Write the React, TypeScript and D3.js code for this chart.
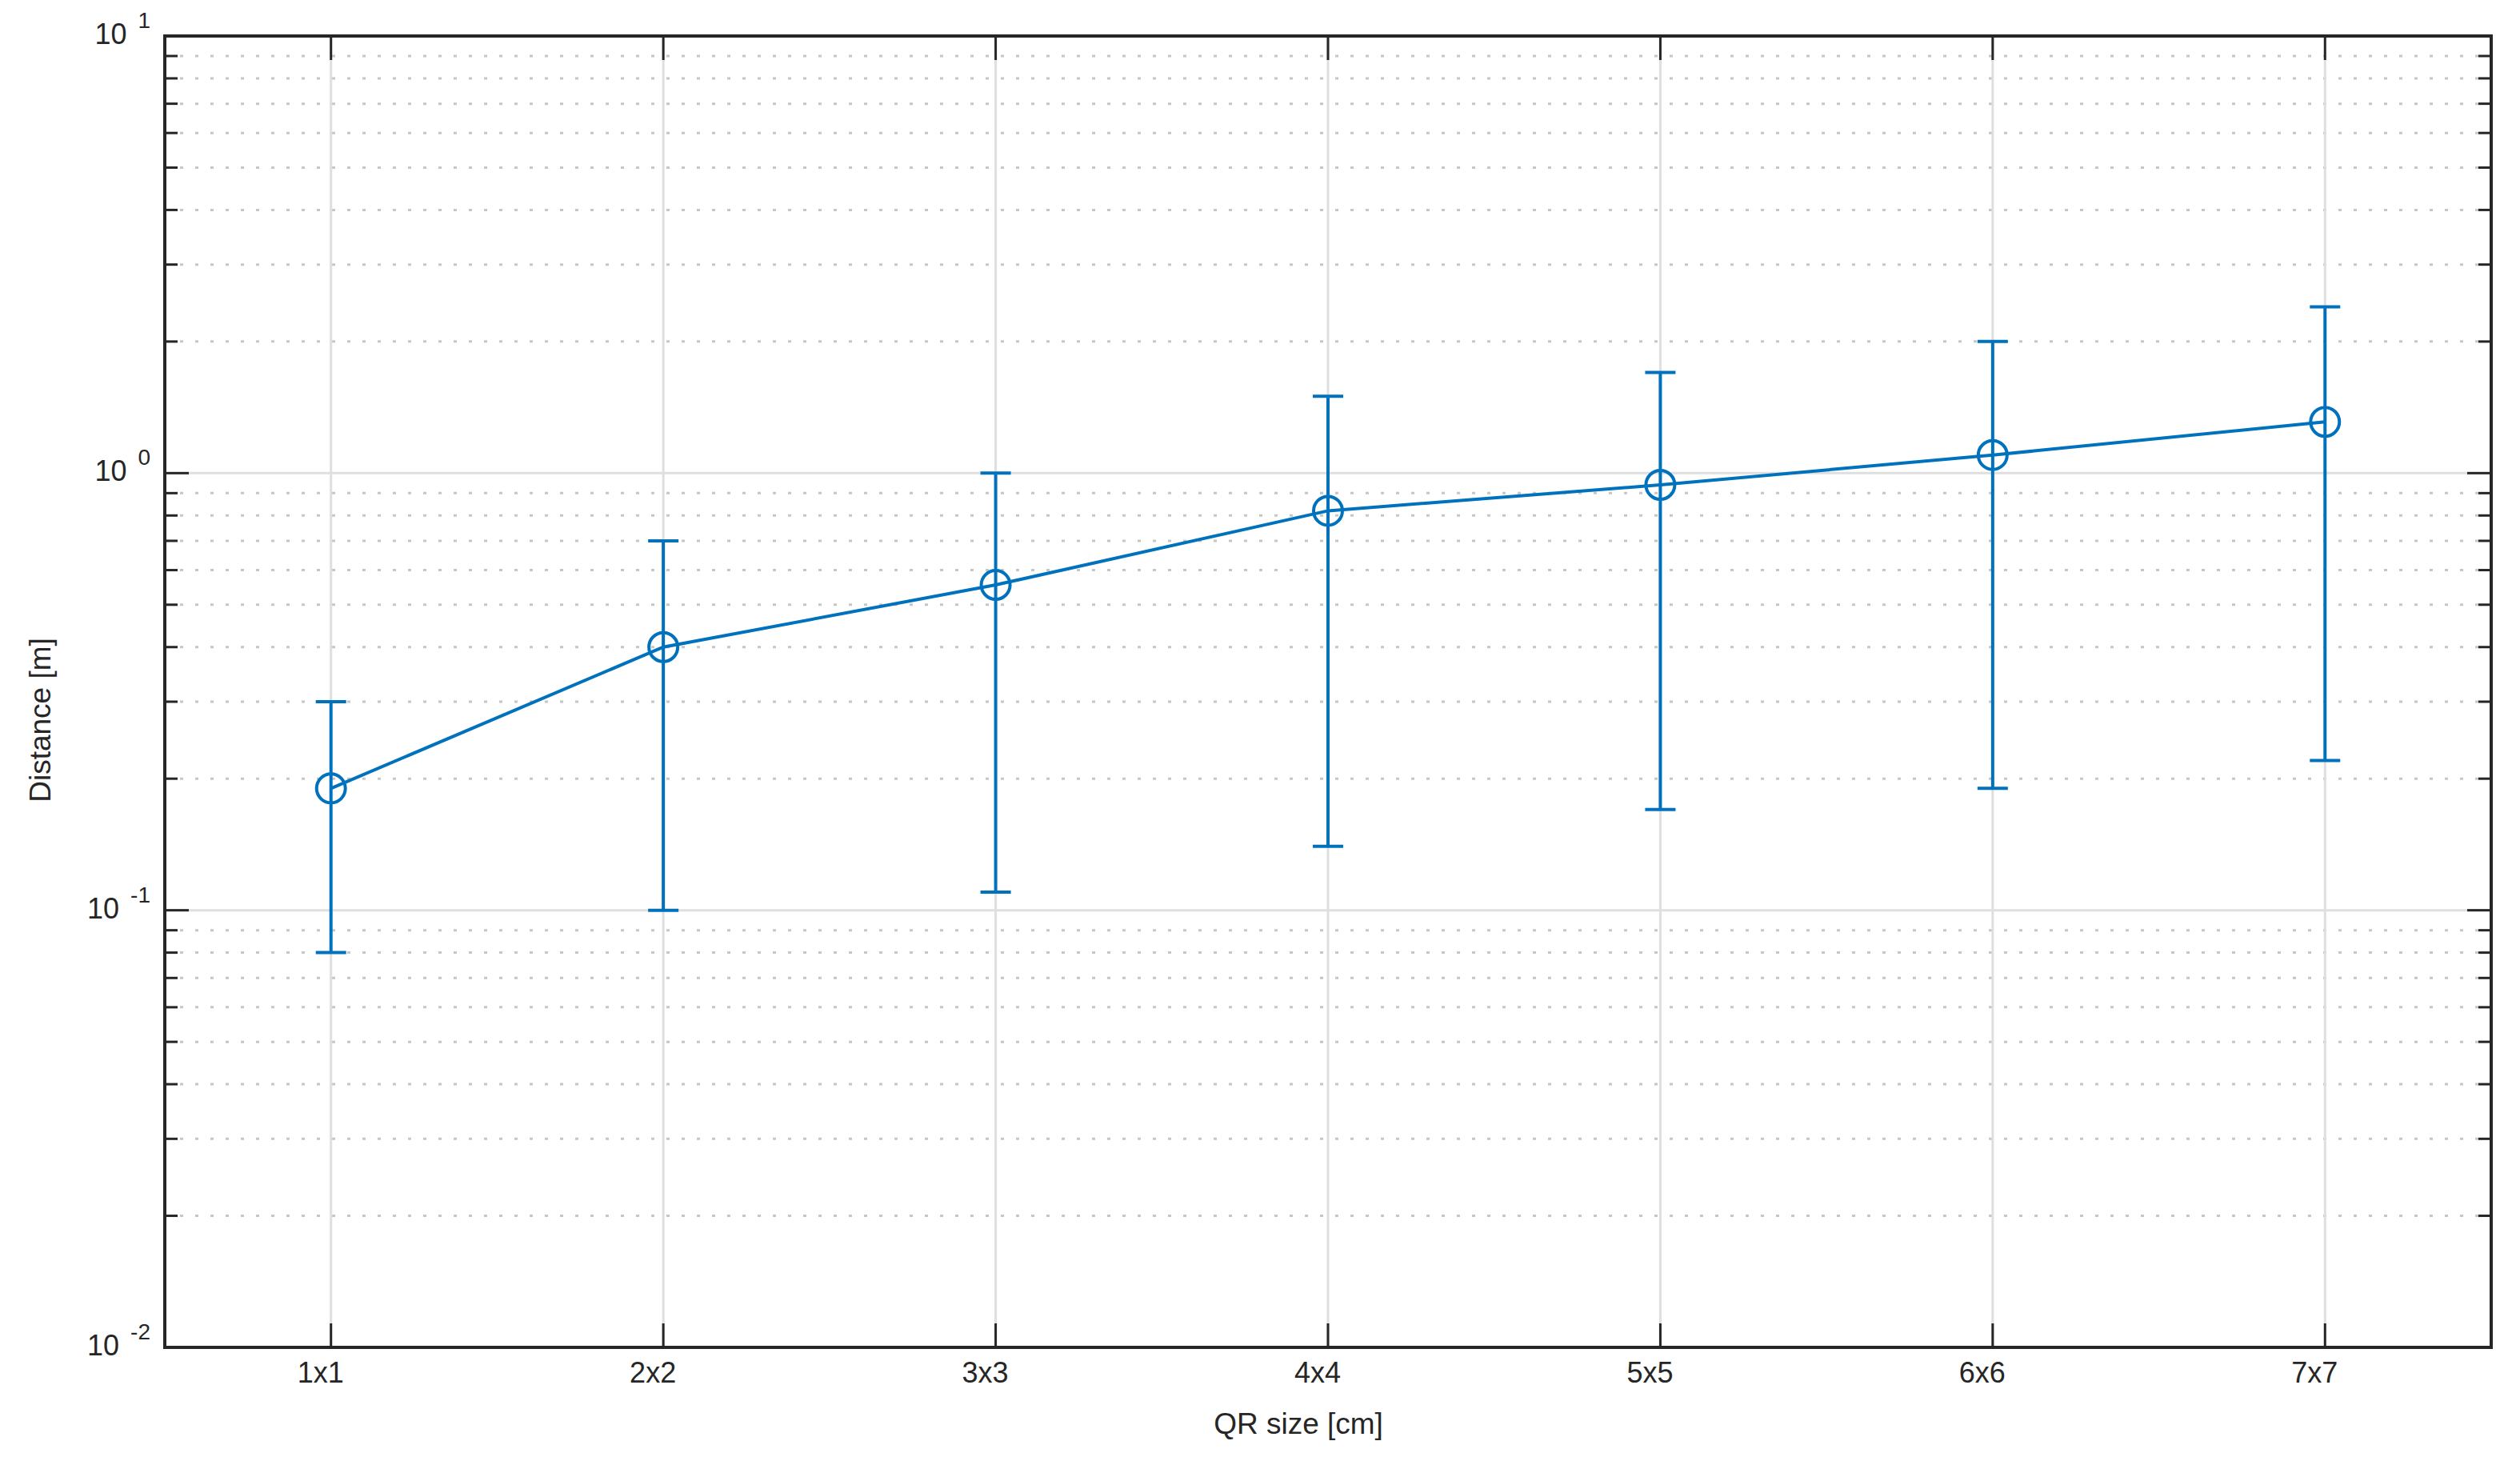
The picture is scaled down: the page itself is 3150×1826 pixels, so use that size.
import React from "react";
import * as d3 from "d3";

const categories = ["1x1", "2x2", "3x3", "4x4", "5x5", "6x6", "7x7"];
const meanValues = [0.19, 0.4, 0.555, 0.82, 0.94, 1.1, 1.31];
const upperValues = [0.3, 0.7, 1.0, 1.5, 1.7, 2.0, 2.4];
const lowerValues = [0.08, 0.1, 0.11, 0.14, 0.17, 0.19, 0.22];
const decadeExponents = [-2, -1, 0, 1];
const minorMultipliers = [2, 3, 4, 5, 6, 7, 8, 9];
const xAxisLabel = "QR size [cm]";
const yAxisLabel = "Distance [m]";

const W = 3150;
const H = 1826;
const L = 206;
const R = 3114;
const T = 45;
const B = 1684;
const AX = "#262626";
const BLUE = "#0072BD";
const FONT = "'Liberation Sans', Arial, Helvetica, sans-serif";

export default function App() {
  const x = d3.scaleLinear().domain([0.5, categories.length + 0.5]).range([L, R]);
  const y = d3.scaleLog().domain([0.01, 10]).range([B, T]);

  const minorTicks: number[] = [];
  decadeExponents.slice(0, -1).forEach((e) => {
    minorMultipliers.forEach((m) => minorTicks.push(m * Math.pow(10, e)));
  });
  const majorTicks = decadeExponents.map((e) => Math.pow(10, e));

  const line = d3
    .line<number>()
    .x((_, i) => x(i + 1))
    .y((d) => y(d));

  const capHalf = 19;

  return (
    <svg
      width={W}
      height={H}
      style={{ position: "absolute", left: 0, top: 0, background: "#fff" }}
      fontFamily={FONT}
    >
      <rect x={0} y={0} width={W} height={H} fill="#fff" />
      {/* minor grid */}
      {minorTicks.map((v, i) => (
        <line
          key={"mg" + i}
          x1={L}
          x2={R}
          y1={y(v)}
          y2={y(v)}
          stroke="#c6c6c6"
          strokeWidth={3}
          strokeDasharray="4 15"
        />
      ))}
      {/* major grid */}
      {majorTicks.map((v, i) => (
        <line key={"Mg" + i} x1={L} x2={R} y1={y(v)} y2={y(v)} stroke="#dfdfdf" strokeWidth={3} />
      ))}
      {categories.map((c, i) => (
        <line key={"vg" + i} x1={x(i + 1)} x2={x(i + 1)} y1={T} y2={B} stroke="#dfdfdf" strokeWidth={3} />
      ))}
      {/* ticks */}
      {minorTicks.map((v, i) => (
        <g key={"mt" + i}>
          <line x1={L} x2={L + 16} y1={y(v)} y2={y(v)} stroke={AX} strokeWidth={3} />
          <line x1={R - 16} x2={R} y1={y(v)} y2={y(v)} stroke={AX} strokeWidth={3} />
        </g>
      ))}
      {majorTicks.map((v, i) => (
        <g key={"Mt" + i}>
          <line x1={L} x2={L + 30} y1={y(v)} y2={y(v)} stroke={AX} strokeWidth={3} />
          <line x1={R - 30} x2={R} y1={y(v)} y2={y(v)} stroke={AX} strokeWidth={3} />
        </g>
      ))}
      {categories.map((c, i) => (
        <g key={"xt" + i}>
          <line x1={x(i + 1)} x2={x(i + 1)} y1={B} y2={B - 30} stroke={AX} strokeWidth={3} />
          <line x1={x(i + 1)} x2={x(i + 1)} y1={T} y2={T + 30} stroke={AX} strokeWidth={3} />
        </g>
      ))}
      {/* axes box */}
      <rect x={L} y={T} width={R - L} height={B - T} fill="none" stroke={AX} strokeWidth={4} />
      {/* tick labels */}
      {categories.map((c, i) => (
        <text
          key={"xl" + i}
          x={x(i + 1) - 13}
          y={B + 44}
          textAnchor="middle"
          fontSize={36}
          fill={AX}
        >
          {c}
        </text>
      ))}
      {decadeExponents.map((e, i) => (
        <text key={"yl" + i} x={188} y={y(Math.pow(10, e)) + 10} textAnchor="end" fontSize={36} fill={AX}>
          <tspan>10</tspan>
          <tspan dx={14} dy={-20} fontSize={28}>
            {String(e)}
          </tspan>
        </text>
      ))}
      {/* axis labels */}
      <text x={1623} y={1792} textAnchor="middle" fontSize={37} fill={AX}>
        {xAxisLabel}
      </text>
      <text
        transform={`translate(63, 900) rotate(-90)`}
        textAnchor="middle"
        fontSize={37}
        fill={AX}
      >
        {yAxisLabel}
      </text>
      {/* error bars */}
      {meanValues.map((v, i) => {
        const cx = x(i + 1);
        return (
          <g key={"eb" + i} stroke={BLUE} strokeWidth={4} fill="none">
            <line x1={cx} x2={cx} y1={y(lowerValues[i])} y2={y(upperValues[i])} />
            <line x1={cx - capHalf} x2={cx + capHalf} y1={y(upperValues[i])} y2={y(upperValues[i])} />
            <line x1={cx - capHalf} x2={cx + capHalf} y1={y(lowerValues[i])} y2={y(lowerValues[i])} />
          </g>
        );
      })}
      <path d={line(meanValues) || ""} fill="none" stroke={BLUE} strokeWidth={4} />
      {meanValues.map((v, i) => (
        <circle key={"pt" + i} cx={x(i + 1)} cy={y(v)} r={18} fill="none" stroke={BLUE} strokeWidth={4} />
      ))}
    </svg>
  );
}
